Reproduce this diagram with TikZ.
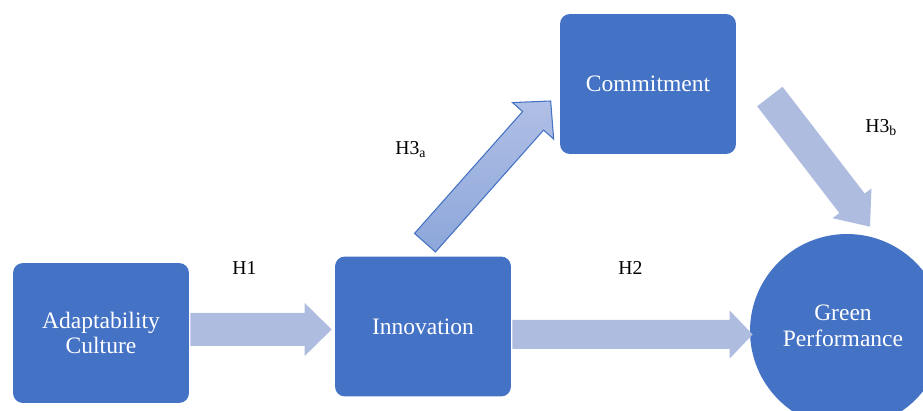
\documentclass[tikz,border=0pt]{standalone}
\usepackage{fontspec}
\setmainfont{Liberation Serif}
\usetikzlibrary{calc}

\definecolor{boxblue}{RGB}{68,114,196}
\definecolor{pathblue}{RGB}{174,188,224}
\definecolor{pathtop}{RGB}{176,191,229}
\definecolor{pathbot}{RGB}{141,167,218}

% block arrow from #2 to #3: style, shaft half width, head half width, head length
\newcommand{\fatarrow}[6]{%
  \coordinate (fa-s) at (#2);
  \coordinate (fa-t) at (#3);
  \coordinate (fa-n) at ($(fa-t)!#6!(fa-s)$);
  \path[#1] ($(fa-s)!#4!90:(fa-t)$) -- ($(fa-n)!#4!90:(fa-t)$)
    -- ($(fa-n)!#5!90:(fa-t)$) -- (fa-t) -- ($(fa-n)!#5!-90:(fa-t)$)
    -- ($(fa-n)!#4!-90:(fa-t)$) -- ($(fa-s)!#4!-90:(fa-t)$) -- cycle;
}

\tikzset{
  block/.style={rectangle, rounded corners=0.2cm, fill=boxblue, text=white,
    minimum width=3.52cm, minimum height=2.8cm, inner sep=0pt, align=center,
    font=\fontsize{13.4}{14.5}\selectfont},
  disc/.style={circle, fill=boxblue, minimum size=3.88cm, inner sep=0pt},
  disctext/.style={text=white, align=center, inner sep=0pt,
    font=\fontsize{13.4}{14.5}\selectfont},
  hyp/.style={anchor=base west, inner sep=0pt, font=\fontsize{11.2}{13}\selectfont},
  flat/.style={fill=pathblue},
  shaded/.style={top color=pathtop, bottom color=pathbot, draw=boxblue, line width=0.6pt}
}

\begin{document}
\begin{tikzpicture}[x=0.02cm, y=-0.02cm]
  \useasboundingbox (0,0) rectangle (923,411);

  \node[block] (culture) at (101,333) {Adaptability\\Culture};
  \node[block] (innov) at (423,326.5) {Innovation};
  \node[block] (commit) at (648,84) {Commitment};
  \node[disc] (green) at (847,331) {};
  \node[disctext] (greentext) at ($(green.center)+(-4,-5)$) {Green\\Performance};

  \fatarrow{flat}{$(culture.east)+(1,-3.5)$}{$(innov.west)+(-3,3)$}{0.33cm}{0.53cm}{0.54cm}
  \fatarrow{flat}{$(innov.east)+(1,8)$}{$(green.west)+(3,3.5)$}{0.29cm}{0.48cm}{0.46cm}
  \fatarrow{shaded}{$(innov.north)+(2,-13.5)$}{$(commit.west)+(-9,17)$}{0.28cm}{0.55cm}{0.53cm}
  \fatarrow{flat}{$(commit.east)+(33.5,12.5)$}{$(green.north)+(23,-7)$}{0.32cm}{0.49cm}{0.59cm}

  \node[hyp] (h1) at (232,275) {H1};
  \node[hyp] (h2) at (618,275) {H2};
  \node[hyp] (h3a) at (395,155) {H3\textsubscript{a}};
  \node[hyp] (h3b) at (865,133) {H3\textsubscript{b}};
\end{tikzpicture}
\end{document}
